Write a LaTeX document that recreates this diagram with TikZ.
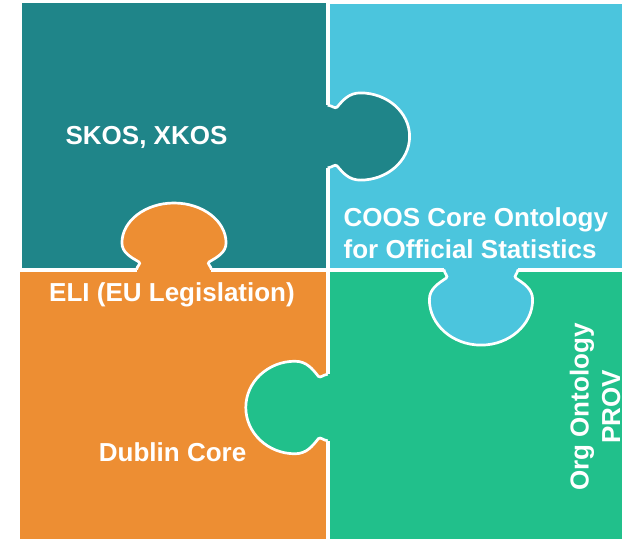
\documentclass[tikz,border=0pt]{standalone}
\usepackage{fontspec}
\setmainfont{Liberation Sans}
\definecolor{skosteal}{HTML}{1F8589}
\definecolor{coosblue}{HTML}{4BC5DD}
\definecolor{eliorange}{HTML}{ED8E33}
\definecolor{orggreen}{HTML}{21C08B}
\newcommand{\knob}[3]{%
  \begin{scope}[shift={#2},#3]
    \fill[#1] (-3,-32) rectangle (4,32);
    \filldraw[fill=#1,rim] (0,-32) .. controls (4,-31.5) and (6,-28) .. (8,-30)
      .. controls (13,-37) and (18,-44.5) .. (28,-44.5)
      .. controls (51,-44.5) and (70,-24.6) .. (70,0)
      .. controls (70,24.6) and (51,44.5) .. (28,44.5)
      .. controls (18,44.5) and (13,37) .. (8,30)
      .. controls (6,28) and (4,31.5) .. (0,32);
  \end{scope}}

\begin{document}
\begin{tikzpicture}[x=1pt,y=-1pt,
    rim/.style={draw=white,line width=2.7pt},
    piecetext/.style={text=white,inner sep=0pt,font=\fontsize{26}{31.5}\selectfont\bfseries}]
  \useasboundingbox (0,0) rectangle (622,539);
  \fill[white] (0,0) rectangle (622,539);

  \fill[skosteal] (22.3,2.7) rectangle (325.7,267.5);
  \fill[coosblue] (329.7,4) rectangle (622,267.5);
  \fill[eliorange] (19.8,271.5) rectangle (325.7,539);
  \fill[orggreen] (329.7,271.5) rectangle (622,539);

  \knob{skosteal}{(327.7,136.5)}{rotate=0,xscale=1.17,yscale=0.98}
  \knob{eliorange}{(174,269.5)}{rotate=90,yscale=1.17,xscale=0.95}
  \knob{coosblue}{(481,269.5)}{rotate=-90,yscale=1.16,xscale=1.08}
  \knob{orggreen}{(327.7,407.5)}{rotate=180,xscale=1.17,yscale=1.04}

  \node[piecetext,anchor=base] (skos) at (146.5,144.3) {SKOS, XKOS};
  \node[piecetext,anchor=base west,align=left] (coos) at (343.5,258.3) {COOS Core Ontology\\for Official Statistics};
  \node[piecetext,anchor=base] (eli) at (172,301.7) {ELI (EU Legislation)};
  \node[piecetext,anchor=base] (dublin) at (172.6,461.5) {Dublin Core};
  \node[piecetext,rotate=90,align=center] (org) at (595,407) {Org Ontology\\PROV};
\end{tikzpicture}
\end{document}
